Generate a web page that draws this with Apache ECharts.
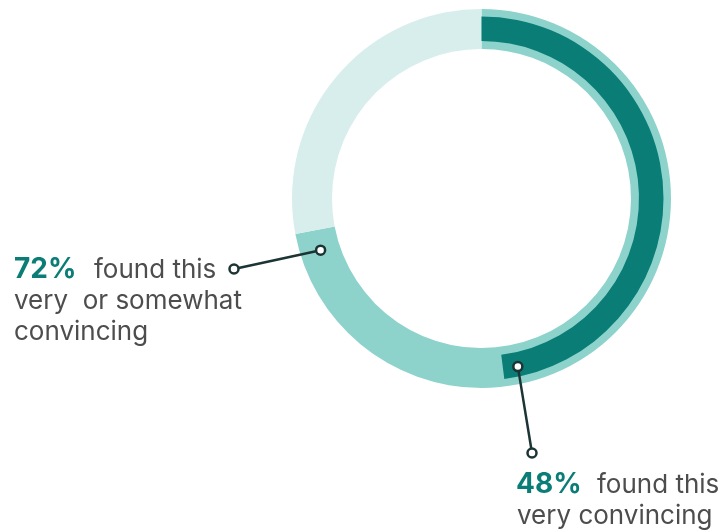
<!DOCTYPE html>
<html>
<head>
<meta charset="utf-8">
<style>
  html, body { margin: 0; padding: 0; background: #ffffff; }
  #chart { width: 725px; height: 532px; }
</style>
<script src="https://cdn.jsdelivr.net/npm/echarts@6/dist/echarts.min.js"></script>
</head>
<body>
<div id="chart"></div>
<script>
// Share of respondents who found the message convincing
const categories = ['Very or somewhat convincing', 'Not convincing'];
const broadValues = [72, 28];
const strongCategories = ['Very convincing', 'Other'];
const strongValues = [48, 52];
const percentLabels = ['72%', '48%'];

const CX = 481.5, CY = 198.5;
const FONT = 'Inter, "Open Sans", sans-serif';
const TEXT_COLOR = '#4d4d4d';
const TEAL_DARK = '#0a7d76';
const LINE_COLOR = '#1d3434';

const chart = echarts.init(document.getElementById('chart'), null, { renderer: 'canvas' });

// Point on the ring, given a share of the full circle measured clockwise from 12 o'clock
function ringPoint(share, offsetDeg, r) {
  const theta = (90 - share * 360 / 100 + offsetDeg) * Math.PI / 180;
  return [CX + r * Math.cos(theta), CY - r * Math.sin(theta)];
}

function leader(from, to) {
  return [
    { type: 'line', z: 10, shape: { x1: from[0], y1: from[1], x2: to[0], y2: to[1] },
      style: { stroke: LINE_COLOR, lineWidth: 2.5 } },
    { type: 'circle', z: 11, shape: { cx: from[0], cy: from[1], r: 4.5 },
      style: { fill: '#ffffff', stroke: LINE_COLOR, lineWidth: 2.5 } },
    { type: 'circle', z: 11, shape: { cx: to[0], cy: to[1], r: 4.5 },
      style: { fill: '#ffffff', stroke: LINE_COLOR, lineWidth: 2.5 } }
  ];
}

function txt(x, y, text, bold) {
  return {
    type: 'text', z: 12, x: x, y: y,
    style: {
      text: text,
      font: bold ? 'bold 28px ' + FONT : '26px ' + FONT,
      fill: bold ? TEAL_DARK : TEXT_COLOR,
      textVerticalAlign: 'bottom'
    }
  };
}

const anchor1 = ringPoint(broadValues[0], 7, 169);
const anchor2 = ringPoint(strongValues[0], 5, 172);

const graphics = []
  .concat(leader(anchor1, [234, 269]))
  .concat(leader(anchor2, [532, 453]))
  .concat([
    txt(14, 284, percentLabels[0], true),
    txt(94, 283, 'found this', false),
    txt(14, 314, 'very  or somewhat', false),
    txt(14, 345, 'convincing', false),
    txt(516, 499, percentLabels[1], true),
    txt(597, 498, 'found this', false),
    txt(517, 529, 'very convincing', false)
  ]);

chart.setOption({
  animation: false,
  series: [
    {
      type: 'pie',
      center: [CX, CY],
      radius: [149.5, 189.5],
      startAngle: 90,
      clockwise: true,
      silent: true,
      label: { show: false },
      labelLine: { show: false },
      itemStyle: { borderWidth: 0 },
      data: categories.map((name, i) => ({
        name: name,
        value: broadValues[i],
        itemStyle: { color: i === 0 ? '#8dd3cc' : '#d7eeed' }
      }))
    },
    {
      type: 'pie',
      center: [CX, CY],
      radius: [157.5, 182],
      startAngle: 90,
      clockwise: true,
      silent: true,
      z: 3,
      label: { show: false },
      labelLine: { show: false },
      itemStyle: { borderWidth: 0 },
      data: strongCategories.map((name, i) => ({
        name: name,
        value: strongValues[i],
        itemStyle: { color: i === 0 ? TEAL_DARK : 'rgba(0,0,0,0)' }
      }))
    }
  ],
  graphic: graphics
});
</script>
</body>
</html>
